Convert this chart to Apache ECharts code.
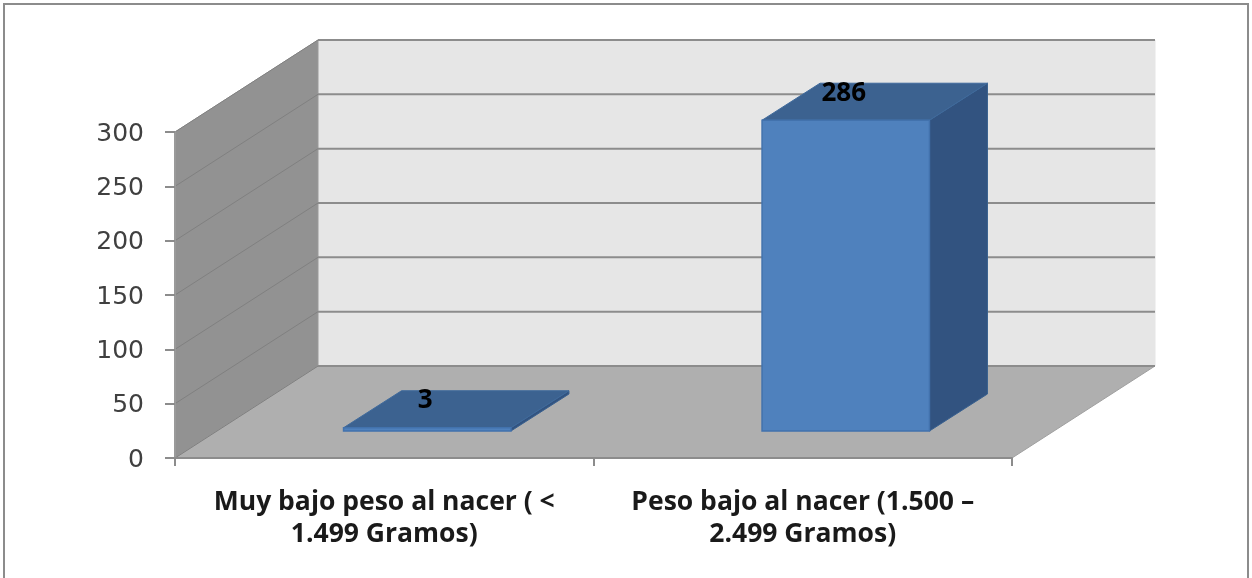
<!DOCTYPE html>
<html>
<head>
<meta charset="utf-8">
<style>
html,body{margin:0;padding:0;background:#fff;overflow:hidden}
#c{width:1252px;height:578px;filter:blur(0.5px)}
</style>
<script src="https://cdn.jsdelivr.net/npm/echarts@6/dist/echarts.min.js"></script>
</head>
<body>
<div id="c"></div>
<script>
const categories = ['Muy bajo peso al nacer ( <\n1.499 Gramos)', 'Peso bajo al nacer (1.500 –\n2.499 Gramos)'];
const values = [3, 286];
const yTicks = [0, 50, 100, 150, 200, 250, 300];

const DX = 143, DY = -92;          // depth of the 3D box
const BAR_WIDTH = 0.4, BAR_OX = 43, BAR_OY = -27, BAR_DX = 58, BAR_DY = -37;

const chart = echarts.init(document.getElementById('c'));

function poly(points, fill, stroke, lw) {
  return { type: 'polygon', shape: { points }, style: { fill, stroke: stroke || fill, lineWidth: lw == null ? 1 : lw } };
}
function line(p, q, stroke, lw) {
  return { type: 'line', shape: { x1: p[0], y1: p[1], x2: q[0], y2: q[1] }, style: { stroke, lineWidth: lw } };
}

function renderWalls(params, api) {
  const cs = params.coordSys;
  const L = cs.x, R = cs.x + cs.width, T = cs.y, B = cs.y + cs.height;
  const ch = [];
  ch.push(poly([[L + DX, T + DY], [R + DX, T + DY], [R + DX, B + DY], [L + DX, B + DY]], '#e6e6e6'));
  ch.push(poly([[L, T], [L + DX, T + DY], [L + DX, B + DY], [L, B]], '#929292', '#9a9a9a'));
  ch.push(poly([[L, B], [L + DX, B + DY], [R + DX, B + DY], [R, B]], '#afafaf', '#a0a0a0'));
  yTicks.forEach(function (t) {
    const y = api.coord([0, t])[1];
    ch.push(line([L, y], [L + DX, y + DY], '#808080', 1));
    ch.push(line([L + DX, y + DY], [R + DX, y + DY], '#8c8c8c', 2));
  });
  return { type: 'group', children: ch };
}

function renderBar(params, api) {
  const idx = api.value(0), val = api.value(1);
  const base = api.coord([idx, 0]), top = api.coord([idx, val]);
  const bw = api.size([1, 0])[0] * BAR_WIDTH;
  const ox = BAR_OX, oy = BAR_OY;
  const dx = BAR_DX, dy = BAR_DY;
  const x0 = base[0] + ox - bw / 2, x1 = base[0] + ox + bw / 2;
  const yb = base[1] + oy, yt = top[1] + oy;
  return {
    type: 'group',
    children: [
      poly([[x1, yt], [x1 + dx, yt + dy], [x1 + dx, yb + dy], [x1, yb]], '#325380', '#38608f', 1),
      poly([[x0, yt], [x0 + dx, yt + dy], [x1 + dx, yt + dy], [x1, yt]], '#3c6290', '#3f6a9c', 1),
      poly([[x0, yt], [x1, yt], [x1, yb], [x0, yb]], '#4f81bd', '#4272ad', 1.5),
      {
        type: 'text',
        style: {
          x: base[0] + ox - 2, y: yt - 27, text: String(val),
          fill: '#000', fontFamily: 'Open Sans', fontWeight: 700, fontSize: 26, align: 'center', verticalAlign: 'middle'
        }
      }
    ]
  };
}

chart.setOption({
  animation: false,
  backgroundColor: '#fff',
  graphic: [{
    type: 'rect', z: 100,
    shape: { x: 4, y: 4, width: 1244, height: 620 },
    style: { fill: 'none', stroke: '#8c8c8c', lineWidth: 2 }
  }],
  grid: { left: 175, right: 240, top: 132, bottom: 120 },
  xAxis: {
    type: 'category', data: categories, z: 5,
    axisLine: { lineStyle: { color: '#8c8c8c', width: 2 } },
    axisTick: { show: true, interval: 0, length: 8, lineStyle: { color: '#8c8c8c', width: 2 } },
    axisLabel: { interval: 0, hideOverlap: false, color: '#1a1a1a', fontFamily: 'Open Sans', fontWeight: 700, fontSize: 26.5, lineHeight: 32, margin: 28 },
    splitLine: { show: false }
  },
  yAxis: {
    type: 'value', min: 0, max: 300, interval: 50, z: 5,
    axisLine: { show: true, lineStyle: { color: '#9a9a9a', width: 2 } },
    axisTick: { show: true, length: 10, lineStyle: { color: '#8c8c8c', width: 2 } },
    axisLabel: { color: '#404040', fontFamily: 'DejaVu Sans', fontSize: 25, margin: 31, verticalAlign: 'top', lineHeight: 4 },
    splitLine: { show: false }
  },
  series: [
    { type: 'custom', z: 1, renderItem: renderWalls, data: [0], silent: true, encode: { x: 0 } },
    { type: 'custom', z: 2, renderItem: renderBar, data: values.map(function (v, i) { return [i, v]; }), encode: { x: 0, y: 1 } }
  ]
});
</script>
</body>
</html>
